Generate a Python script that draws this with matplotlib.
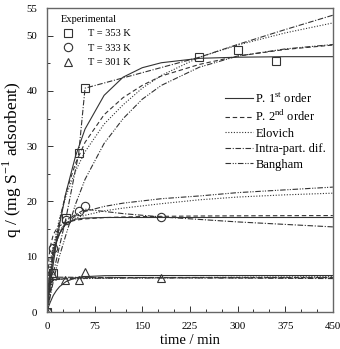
import matplotlib
matplotlib.use('Agg')
import matplotlib.pyplot as plt
from matplotlib.lines import Line2D
from matplotlib.ticker import MultipleLocator

plt.rcParams['font.family'] = ['Liberation Serif', 'DejaVu Serif']
plt.rcParams['mathtext.fontset'] = 'custom'
plt.rcParams['mathtext.rm'] = 'Liberation Serif'

# experimental points
t_353 = [0, 10, 30, 50, 60, 240, 300, 360]
q_353 = [0, 7.0, 17.0, 28.7, 40.5, 46.1, 47.4, 45.4]
t_333 = [0, 10, 30, 50, 60, 180]
q_333 = [0, 11.6, 16.6, 18.3, 19.2, 17.2]
t_301 = [0, 10, 28, 50, 60, 180]
q_301 = [0, 6.7, 5.8, 5.8, 7.2, 6.2]

# model curves
t_fit = [0, 3, 5, 10, 15, 20, 30, 45, 60, 90, 120, 150, 180, 240, 300, 375, 450]

p1_353 = [0, 2.8, 4.6, 8.7, 12.5, 15.9, 21.6, 28.2, 33.1, 39.2, 42.5, 44.2, 45.1, 45.9, 46.1, 46.2, 46.2]
p2_353 = [0, 3.4, 5.4, 9.9, 13.6, 16.6, 21.6, 26.9, 30.7, 35.7, 38.8, 41.0, 42.7, 44.8, 46.3, 47.5, 48.3]
elo_353 = [0, 5.0, 7.5, 11.5, 14.5, 17.0, 21.0, 25.5, 29.0, 34.0, 37.5, 40.5, 42.8, 46.1, 48.3, 50.5, 52.3]
ban_353 = [0, 1.5, 2.7, 5.5, 8.0, 10.2, 14.0, 19.5, 24.0, 30.5, 35.0, 38.5, 41.0, 44.3, 46.3, 47.6, 48.4]

p1_333 = [0, 4.1, 6.2, 10.1, 12.7, 14.3, 16.0, 16.8, 17.0, 17.1, 17.1, 17.1, 17.1, 17.1, 17.1, 17.1, 17.1]
p2_333 = [0, 9.6, 11.7, 14.0, 15.0, 15.6, 16.2, 16.6, 16.85, 17.08, 17.19, 17.26, 17.31, 17.37, 17.4, 17.43, 17.45]
elo_333 = [0, 7.0, 9.0, 12.0, 13.6, 14.8, 16.0, 17.0, 17.5, 18.3, 18.8, 19.2, 19.6, 20.3, 20.8, 21.2, 21.5]
ban_333 = [0, 5.5, 7.5, 10.8, 12.8, 14.2, 16.0, 17.4, 18.2, 19.1, 19.7, 20.1, 20.5, 21.0, 21.6, 22.1, 22.6]

p1_301 = [0, 1.1, 1.7, 3.0, 3.9, 4.6, 5.5, 6.2, 6.4, 6.57, 6.6, 6.6, 6.6, 6.6, 6.6, 6.6, 6.6]
p2_301 = [0, 4.5, 5.2, 5.8, 5.95, 6.05, 6.12, 6.17, 6.2, 6.22, 6.23, 6.24, 6.24, 6.25, 6.25, 6.25, 6.25]
elo_301 = [0, 4.8, 5.3, 5.7, 5.8, 5.9, 5.95, 6.0, 6.05, 6.1, 6.15, 6.18, 6.2, 6.25, 6.3, 6.35, 6.4]
ban_301 = [0, 4.3, 5.0, 5.7, 5.85, 5.95, 6.0, 6.05, 6.1, 6.12, 6.14, 6.15, 6.16, 6.17, 6.18, 6.19, 6.2]

# intra-particle diffusion (multi-linear)
ti_353 = [0, 10, 30, 50, 60, 240, 300, 375, 450]
qi_353 = [0, 7.0, 17.0, 28.7, 40.5, 46.1, 48.4, 51.1, 53.7]
ti_333 = [0, 10, 30, 60, 120, 180, 300, 450]
qi_333 = [0, 11.6, 16.6, 18.6, 17.8, 17.2, 16.3, 15.4]
ti_301 = [0, 10, 450]
qi_301 = [0, 6.3, 6.05]

c = '#333333'
lw = 0.8
ls_p1 = '-'
ls_p2 = (0, (4, 2.5))
ls_elo = (0, (1, 1.5))
ls_intra = (0, (5, 1.5, 1, 1.5))
ls_ban = (0, (5, 1.5, 1, 1.2, 1, 1.5))

fig = plt.figure(figsize=(3.4, 3.49), dpi=100)
ax = fig.add_axes([0.138, 0.106, 0.841, 0.871])

for p1, p2, elo, ban in [(p1_353, p2_353, elo_353, ban_353),
                         (p1_333, p2_333, elo_333, ban_333),
                         (p1_301, p2_301, elo_301, ban_301)]:
    ax.plot(t_fit, p1, color=c, lw=lw, ls=ls_p1)
    ax.plot(t_fit, p2, color=c, lw=lw, ls=ls_p2)
    ax.plot(t_fit, elo, color=c, lw=lw, ls=ls_elo)
    ax.plot(t_fit, ban, color=c, lw=lw, ls=ls_ban)
for ti, qi in [(ti_353, qi_353), (ti_333, qi_333), (ti_301, qi_301)]:
    ax.plot(ti, qi, color=c, lw=lw, ls=ls_intra)

mk = dict(ls='none', mfc='none', mec=c, mew=0.8, ms=6)
ax.plot(t_353, q_353, marker='s', **mk)
ax.plot(t_333, q_333, marker='o', **mk)
ax.plot(t_301, q_301, marker='^', **mk)

ax.set_xlim(0, 450)
ax.set_ylim(0, 55)
ax.set_xticks([0, 75, 150, 225, 300, 375, 450])
ax.set_yticks([0, 10, 20, 30, 40, 50, 55])
ax.xaxis.set_minor_locator(MultipleLocator(25))
ax.yaxis.set_minor_locator(MultipleLocator(5))
ax.tick_params(which='both', direction='in', top=False, right=False, labelsize=7.8, color=c, pad=7)
ax.tick_params(which='major', length=4, width=0.7)
ax.tick_params(which='minor', length=2.5, width=0.7)
for s in ax.spines.values():
    s.set_color('#666666')
    s.set_linewidth(1.0)

ax.set_xlabel('time / min', fontsize=10.5, labelpad=2)
ax.set_ylabel(r'q / (mg S$^{-1}$ adsorbent)', fontsize=12.5, labelpad=2)

# legend for experimental markers
h1 = [Line2D([], [], marker=m, **mk) for m in ['s', 'o', '^']]
leg1 = ax.legend(h1, ['T = 353 K', 'T = 333 K', 'T = 301 K'], loc='upper left',
                 bbox_to_anchor=(0.04, 0.985), frameon=False, fontsize=7.5,
                 title='Experimental', title_fontsize=7.5, alignment='left',
                 handlelength=1.4, handletextpad=1.2, labelspacing=0.5,
                 borderaxespad=0, borderpad=0.2)
ax.add_artist(leg1)

# legend for models
h2 = [Line2D([], [], color=c, lw=lw, ls=s) for s in [ls_p1, ls_p2, ls_elo, ls_intra, ls_ban]]
ax.legend(h2, [r'P. 1$^{\rm st}$ order', r'P. 2$^{\rm nd}$ order', 'Elovich',
               'Intra-part. dif.', 'Bangham'],
          loc='upper right', bbox_to_anchor=(0.985, 0.735), frameon=False, fontsize=9,
          handlelength=2.2, handletextpad=0.2, labelspacing=0.28,
          borderaxespad=0, borderpad=0.2)

fig.savefig('out.png', dpi=100)
